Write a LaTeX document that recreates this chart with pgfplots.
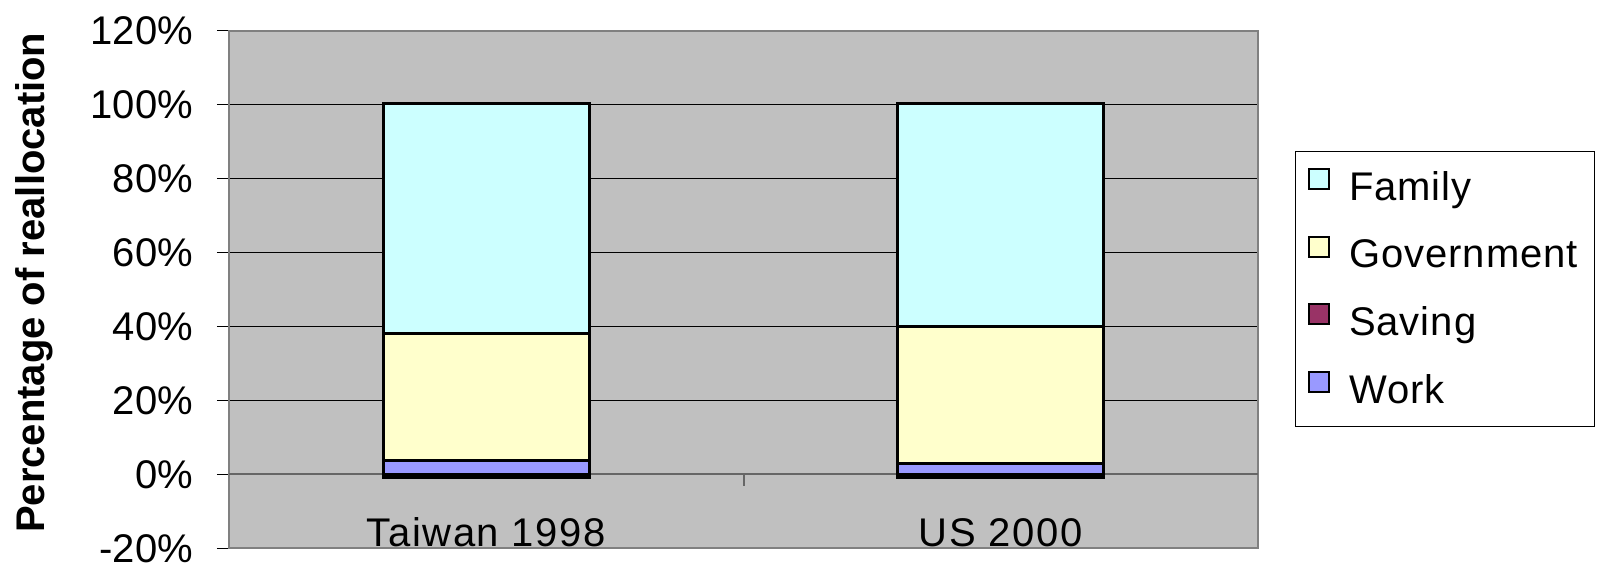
\documentclass[border=0pt]{standalone}
\usepackage{pgfplots}
\pgfplotsset{compat=1.18}
\usepackage{fontspec}
\setmainfont{Liberation Sans}
\definecolor{famc}{HTML}{CCFFFF}
\definecolor{govc}{HTML}{FFFFCC}
\definecolor{savc}{HTML}{993366}
\definecolor{workc}{HTML}{9999FF}
\definecolor{bgc}{HTML}{C0C0C0}
\definecolor{framec}{HTML}{808080}
\begin{document}
\begin{tikzpicture}
\begin{axis}[
  scale only axis,
  width=514.5pt, height=258.9pt,
  ybar stacked, bar width=0.4,
  xmin=-0.5, xmax=1.5,
  ymin=-20, ymax=120,
  ytick={-20,0,20,40,60,80,100,120},
  yticklabel={\pgfmathprintnumber{\tick}\%},
  /pgf/number format/assume math mode=true,
  xtick={0,1},
  xticklabels={Taiwan 1998, US 2000},
  xtick style={draw=none},
  ytick pos=left,
  tick align=outside,
  major tick length=6pt,
  ytick style={black, line width=0.5pt},
  ymajorgrids,
  major grid style={black, line width=0.5pt},
  axis background/.style={fill=bgc},
  axis line style={framec, line width=1pt},
  tick label style={font=\fontsize{20}{24}\selectfont, black},
  yticklabel style={xshift=-8.5pt},
  xticklabel style={anchor=base, yshift=7pt, font=\fontsize{20}{24}\selectfont\addfontfeature{LetterSpace=4}},
  ylabel={Percentage of reallocation},
  ylabel style={at={(axis description cs:-0.1895,0.513)}, anchor=center, font=\fontsize{20}{24}\selectfont\bfseries},
  legend style={at={(1,1)}, anchor=north west, xshift=18.5pt, yshift=-60.25pt,
    draw=black, line width=0.5pt, fill=white, font=\fontsize{20}{24}\selectfont\addfontfeature{LetterSpace=2.5},
    row sep=14pt, inner xsep=6pt, inner ysep=8pt, cells={anchor=west}},
  legend image code/.code={\draw[#1, line width=1pt] (0pt,-1pt) rectangle (10pt,9pt); \path (18pt,4pt);},
]
\draw[black!60, line width=1pt] (axis cs:-0.5,0) -- (axis cs:1.5,0);
\draw[black!60, line width=1pt] (axis cs:0.5,0) -- ++(0pt,-6pt);
\addplot[forget plot, fill=workc, draw=black, line width=1.5pt] coordinates {(0,3.7) (1,3.0)};
\addplot[forget plot, fill=govc, draw=black, line width=1.5pt] coordinates {(0,34.4) (1,37.0)};
\addplot[forget plot, fill=famc, draw=black, line width=1.5pt] coordinates {(0,62.1) (1,60.2)};
\addlegendimage{fill=famc, draw=black}
\addlegendentry{Family}
\addlegendimage{fill=govc, draw=black}
\addlegendentry{Government}
\addlegendimage{fill=savc, draw=black}
\addlegendentry{Saving}
\addlegendimage{fill=workc, draw=black}
\addlegendentry{Work}
\coordinate (bbsw) at (rel axis cs:0,0);
\coordinate (bbne) at (rel axis cs:1,1);
\end{axis}
\begin{axis}[
  scale only axis,
  width=514.5pt, height=258.9pt,
  ybar, bar width=0.4,
  xmin=-0.5, xmax=1.5,
  ymin=-20, ymax=120,
  hide axis,
]
\addplot[fill=savc, draw=black, line width=1.5pt] coordinates {(0,-0.8) (1,-0.8)};
\end{axis}
\pgfresetboundingbox
\path ([xshift=-114.5pt,yshift=-7.5pt]bbsw) rectangle ([xshift=169.5pt,yshift=15.25pt]bbne);
\end{tikzpicture}
\end{document}
